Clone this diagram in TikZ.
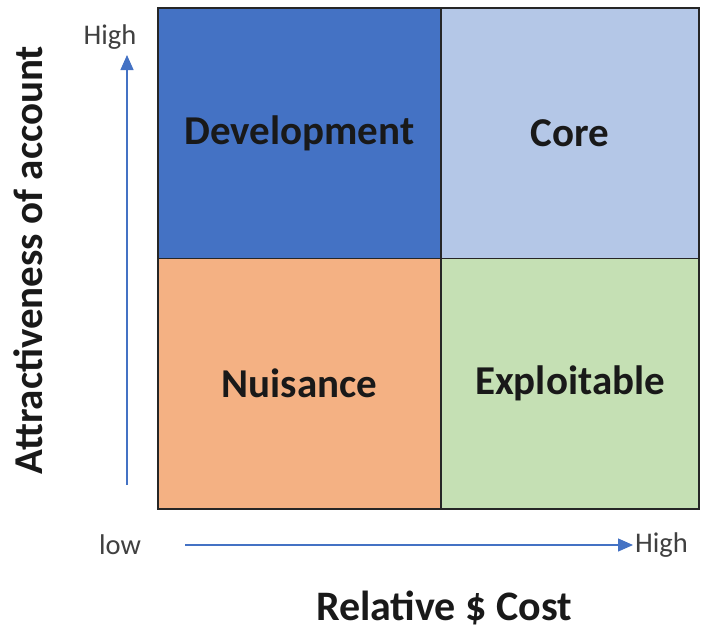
\documentclass[tikz,border=0pt]{standalone}
\usepackage{fontspec}
\setmainfont{Carlito}
\usetikzlibrary{positioning,arrows.meta}

\definecolor{devblue}{HTML}{4472C4}
\definecolor{coreblue}{HTML}{B4C7E7}
\definecolor{nuisorange}{HTML}{F4B183}
\definecolor{exploitgreen}{HTML}{C5E0B4}
\definecolor{axisgray}{HTML}{404040}

\tikzset{
  cell/.style={draw=black!85,line width=1.5pt,outer sep=0pt,minimum height=250.5pt,
    text=black!90,font=\fontsize{41}{48}\selectfont\bfseries},
  lefty/.style={minimum width=283pt},
  righty/.style={minimum width=258pt},
  axis/.style={draw=devblue,line width=1.3pt,-{Triangle[length=15pt,width=13pt]}},
  tick/.style={text=axisgray,inner sep=2pt,font=\fontsize{28.5}{34}\selectfont},
  title/.style={text=black!90,font=\fontsize{41}{48}\selectfont\bfseries}
}

\begin{document}
\begin{tikzpicture}[x=1pt,y=-1pt,node distance=250.5pt and 270.5pt,on grid]
  \useasboundingbox (0,0) rectangle (701,630);

  % the four quadrants
  \node[cell,lefty,fill=devblue] (dev) at (299.5,133) {Development};
  \node[cell,righty,fill=coreblue] (core) [right=of dev] {Core};
  \node[cell,lefty,fill=nuisorange] (nuis) [below=of dev] {Nuisance};
  \node[cell,righty,fill=exploitgreen] (expl) [right=of nuis] {Exploitable};

  % axes
  \node[tick] (yhigh) at (110,37) {High};
  \node[tick] (xlow) at (120,545) {low};
  \node[tick,anchor=west] (xhigh) at (633,545) {High};
  \coordinate (ystart) at (127,485);
  \coordinate (yend) at (127,55);
  \coordinate (xstart) at (185,545);

  \draw[axis] (ystart) -- (yend);
  \draw[axis] (xstart) -- (xhigh.west);

  \node[title,rotate=90] (ytitle) at (28,260) {Attractiveness of account};
  \node[title,font=\fontsize{42}{48}\selectfont\bfseries] (xtitle) at (444,608) {Relative \$ Cost};
\end{tikzpicture}
\end{document}
